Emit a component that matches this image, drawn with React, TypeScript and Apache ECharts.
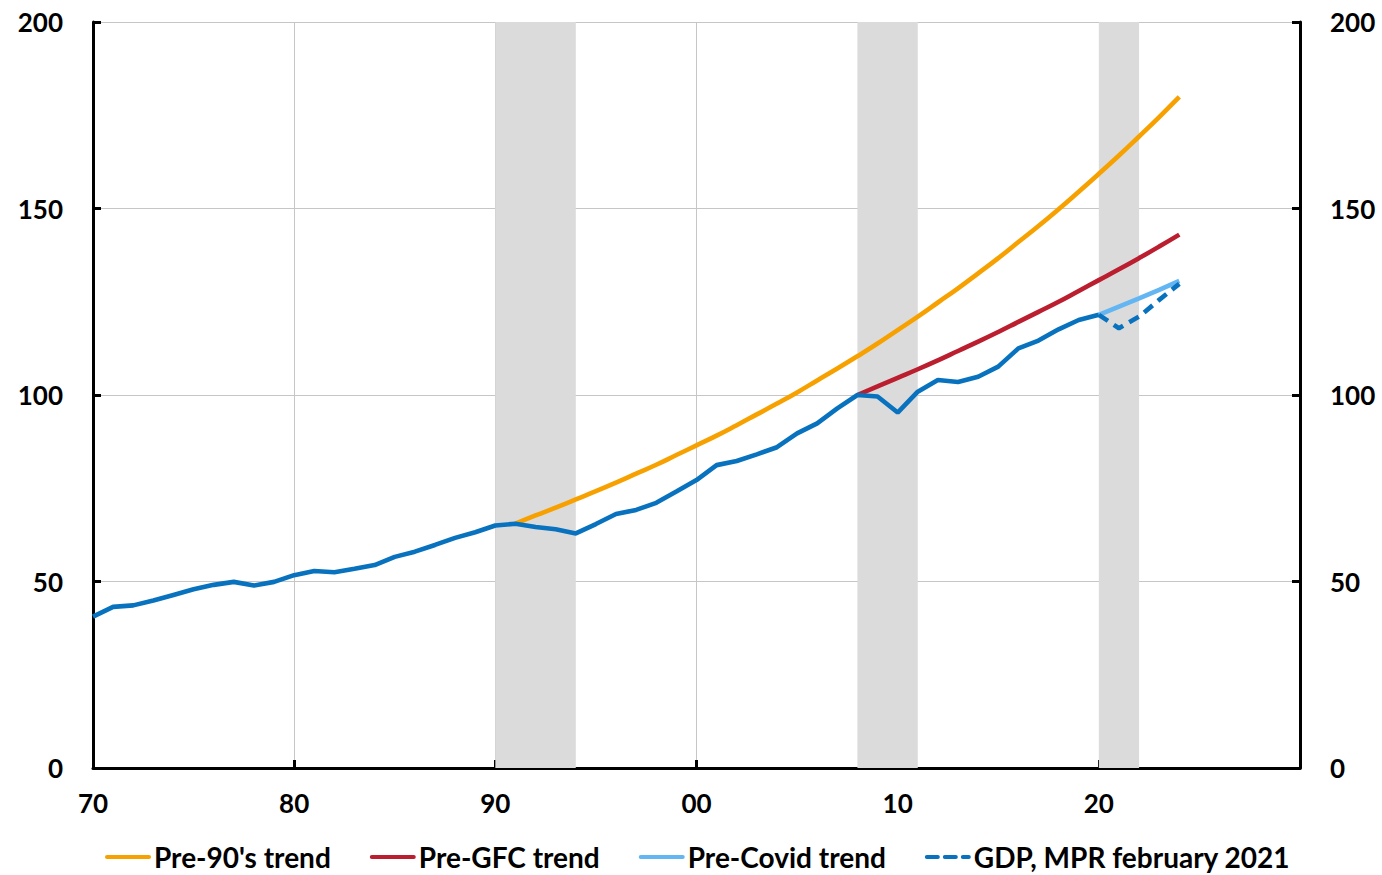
import React, { useEffect, useRef } from "react";
import * as echarts from "echarts";

// GDP index (annual), 1970-2020
const gdpStartYear = 1970;
const gdpValues = [
  40.6, 43.2, 43.6, 44.9, 46.4, 47.9, 49.1, 49.9, 48.9, 49.9,
  51.7, 52.8, 52.5, 53.4, 54.4, 56.6, 58.0, 59.8, 61.7, 63.2,
  65.0, 65.5, 64.6, 64.0, 62.9, 65.4, 68.1, 69.2, 71.1, 74.1,
  77.2, 81.2, 82.3, 84.1, 86.0, 89.7, 92.4, 96.4, 100.0, 99.6,
  95.3, 100.9, 104.0, 103.5, 104.9, 107.6, 112.5, 114.6, 117.6, 120.1,
  121.5,
];

// Pre-90's trend, 1991-2024
const pre90StartYear = 1991;
const pre90Values = [
  65.5, 67.7, 69.8, 72.0, 74.2, 76.5, 78.9, 81.3, 83.9, 86.5,
  89.1, 91.9, 94.8, 97.7, 100.7, 103.9, 107.1, 110.4, 113.8, 117.4,
  121.0, 124.8, 128.6, 132.6, 136.7, 141.0, 145.3, 149.8, 154.5, 159.3,
  164.2, 169.3, 174.5, 179.9,
];

// Pre-GFC trend, 2008-2024
const preGfcStartYear = 2008;
const preGfcValues = [
  100.0, 102.3, 104.6, 106.9, 109.3, 111.8, 114.3, 116.9, 119.6, 122.3,
  125.0, 127.9, 130.8, 133.7, 136.7, 139.8, 143.0,
];

// Pre-Covid trend, 2020-2024
const preCovidStartYear = 2020;
const preCovidValues = [121.5, 123.7, 125.9, 128.2, 130.6];

// GDP, MPR february 2021 projection, 2020-2024
const mprStartYear = 2020;
const mprValues = [121.5, 117.9, 121.0, 125.5, 129.8];

// Shaded periods (crises)
const shadedPeriods: [number, number][] = [
  [1990, 1994],
  [2008, 2011],
  [2020, 2022],
];

const yTicks = [0, 50, 100, 150, 200];

const seriesNames = [
  "Pre-90's trend",
  "Pre-GFC trend",
  "Pre-Covid trend",
  "GDP, MPR february 2021",
];

const toPairs = (start: number, vals: number[]) =>
  vals.map((v, i) => [start + i, v]);

const FONT = "Lato";

export default function App() {
  const ref = useRef<HTMLDivElement>(null);
  useEffect(() => {
    if (!ref.current) return;
    const chart = echarts.init(ref.current, undefined, { renderer: "svg" });
    const axisLineStyle = { color: "#000", width: 3 };
    const labelStyle = {
      fontFamily: FONT,
      fontWeight: "bold" as const,
      fontSize: 26,
      color: "#000",
    };
    const LW = 4.6;
    chart.setOption({
      animation: false,
      backgroundColor: "#fff",
      grid: { left: 93, right: 82, top: 22, bottom: 107 },
      xAxis: {
        type: "value",
        min: 1970,
        max: 2030,
        interval: 10,
        axisLine: { show: true, lineStyle: axisLineStyle },
        axisTick: { show: true, inside: true, length: 8, lineStyle: axisLineStyle },
        splitLine: { show: true, lineStyle: { color: "#c6c6c6", width: 1 } },
        axisLabel: {
          ...labelStyle,
          margin: 22,
          formatter: (v: number) =>
            v === 2030 ? "" : String(v % 100).padStart(2, "0"),
        },
      },
      yAxis: [
        {
          type: "value",
          position: "left",
          min: yTicks[0],
          max: yTicks[yTicks.length - 1],
          interval: 50,
          axisLine: { show: true, lineStyle: axisLineStyle },
          axisTick: { show: true, inside: true, length: 8, lineStyle: axisLineStyle },
          splitLine: { show: true, lineStyle: { color: "#c6c6c6", width: 1 } },
          axisLabel: { ...labelStyle, margin: 30 },
        },
        {
          type: "value",
          position: "right",
          min: yTicks[0],
          max: yTicks[yTicks.length - 1],
          interval: 50,
          axisLine: { show: true, lineStyle: axisLineStyle },
          axisTick: { show: true, inside: true, length: 8, lineStyle: axisLineStyle },
          splitLine: { show: false },
          axisLabel: { ...labelStyle, margin: 30 },
        },
      ],
      legend: {
        data: seriesNames,
        left: 105,
        top: 843,
        padding: 0,
        itemWidth: 42,
        itemHeight: 20,
        itemGap: 39,
        itemStyle: { opacity: 0 },
        lineStyle: { width: 4, cap: "round" },
        textStyle: { ...labelStyle, fontSize: 28, lineHeight: 28, padding: [0, 0, 0, 0] },
      },
      series: [
        {
          name: "shade",
          type: "line",
          data: [],
          z: -1,
          silent: true,
          markArea: {
            silent: true,
            itemStyle: { color: "#dcdbdc" },
            data: shadedPeriods.map(([a, b]) => [{ xAxis: a }, { xAxis: b }]),
          },
        },
        {
          name: "GDP",
          type: "line",
          data: toPairs(gdpStartYear, gdpValues),
          symbol: "none",
          z: 5,
          lineStyle: { color: "#0872be", width: LW },
          itemStyle: { color: "#0872be" },
        },
        {
          name: seriesNames[0],
          type: "line",
          data: toPairs(pre90StartYear, pre90Values),
          symbol: "none",
          smooth: true,
          z: 3,
          lineStyle: { color: "#f7a100", width: LW },
          itemStyle: { color: "#f7a100" },
        },
        {
          name: seriesNames[1],
          type: "line",
          data: toPairs(preGfcStartYear, preGfcValues),
          symbol: "none",
          smooth: true,
          z: 3,
          lineStyle: { color: "#ba1e2f", width: LW },
          itemStyle: { color: "#ba1e2f" },
        },
        {
          name: seriesNames[2],
          type: "line",
          data: toPairs(preCovidStartYear, preCovidValues),
          symbol: "none",
          z: 3,
          lineStyle: { color: "#63b6f2", width: LW },
          itemStyle: { color: "#63b6f2" },
        },
        {
          name: seriesNames[3],
          type: "line",
          data: toPairs(mprStartYear, mprValues),
          symbol: "none",
          z: 4,
          lineStyle: { color: "#0872be", width: LW, type: [11, 7] },
          itemStyle: { color: "#0872be" },
        },
      ],
    });
    return () => chart.dispose();
  }, []);
  return (
    <div
      ref={ref}
      style={{ position: "fixed", left: 0, top: 0, width: 1382, height: 875 }}
    />
  );
}
